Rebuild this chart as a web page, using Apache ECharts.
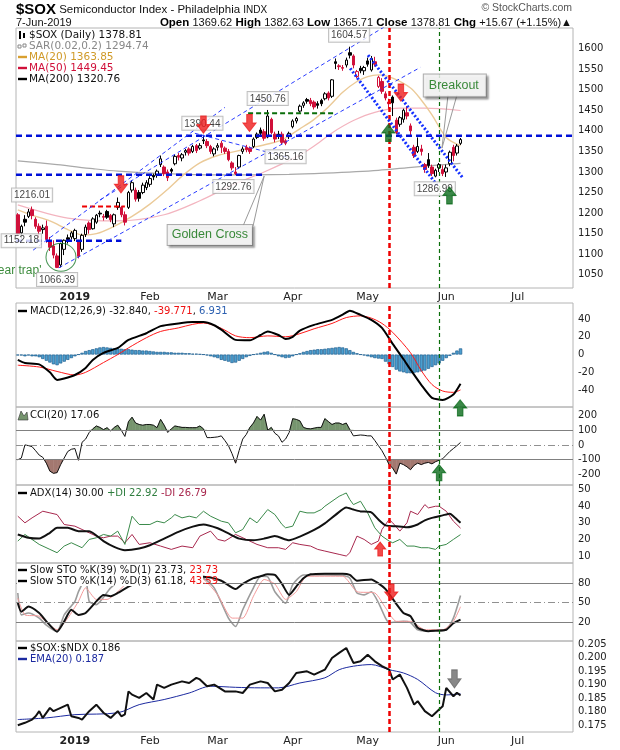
<!DOCTYPE html>
<html>
<head>
<meta charset="utf-8">
<title>$SOX daily</title>
<script src="https://cdn.jsdelivr.net/npm/echarts@6/dist/echarts.min.js"></script>
<style>
  html, body { margin: 0; padding: 0; background: #fff; }
  #chart { width: 620px; height: 750px; }
</style>
</head>
<body>
<div id="chart"></div>
<script>
// day numbers count trading sessions from 2-Jan-2019 (day 0); chart starts 7-Dec-2018 (day -16)
const FIRST_DAY = -16;
const SLOTS = 156;
const closedDays = ['2018-12-25', '2019-01-01', '2019-01-21', '2019-02-18', '2019-04-19', '2019-05-27', '2019-07-04'];
const monthNames = ['Jan', 'Feb', 'Mar', 'Apr', 'May', 'Jun', 'Jul', 'Aug', 'Sep', 'Oct', 'Nov', 'Dec'];

// $SOX candles, day -16 .. 108 : [open, close, low, high]
const sox = [
  [1196,1150,1145,1200],[1152,1168,1138,1172],[1185,1178,1168,1195],[1192,1203,1188,1210],
  [1208,1194,1185,1216.01],[1185,1168,1162,1190],[1168,1156,1140,1175],[1160,1164,1150,1172],
  [1168,1136,1128,1182],[1132,1117,1108,1142],[1120,1098,1090,1134],[1096,1068,1066.39,1102],
  [1074,1126,1068,1128],[1112,1134,1098,1136],[1140,1136,1126,1148],[1142,1152,1136,1156],
  [1138,1158,1132,1162],[1130,1095,1090,1135],[1112,1146,1106,1150],[1148,1166,1142,1172],
  [1176,1160,1150,1180],[1162,1186,1160,1190],[1178,1195,1174,1198],[1200,1198,1190,1206],
  [1192,1190,1182,1198],[1204,1190,1186,1208],[1194,1184,1178,1198],[1174,1196,1166,1199],
  [1214,1226,1208,1238],[1214,1196,1190,1218],[1196,1178,1170,1204],[1214,1250,1210,1254],
  [1256,1274,1250,1280],[1256,1234,1228,1262],[1250,1236,1228,1256],[1250,1268,1246,1274],
  [1262,1274,1256,1280],[1270,1284,1264,1290],[1292,1288,1280,1296],[1292,1302,1286,1306],
  [1318,1332,1312,1340],[1312,1296,1290,1316],[1300,1286,1278,1306],[1306,1302,1296,1310],
  [1320,1338,1316,1342],[1340,1336,1328,1346],[1334,1342,1326,1346],[1348,1352,1340,1356],
  [1356,1346,1340,1360],[1350,1362,1346,1366],[1364,1352,1346,1368],[1358,1364,1354,1370],
  [1378,1376,1368,1390.44],[1374,1364,1358,1380],[1362,1350,1344,1366],[1344,1356,1338,1360],
  [1360,1364,1352,1370],[1370,1360,1346,1376],[1358,1350,1344,1362],[1350,1330,1326,1356],
  [1322,1310,1304,1326],[1300,1296,1292.76,1312],[1312,1340,1308,1342],[1350,1356,1344,1362],
  [1360,1354,1348,1366],[1358,1350,1344,1362],[1362,1380,1358,1384],[1384,1392,1380,1396],
  [1402,1394,1388,1408],[1398,1382,1376,1404],[1385,1436,1382,1450.76],[1428,1396,1392,1432],
  [1392,1380,1372,1398],[1392,1388,1380,1400],[1392,1372,1366,1398],[1376,1370,1365.16,1380],
  [1386,1394,1380,1398],[1410,1424,1406,1428],[1424,1430,1418,1434],[1448,1460,1444,1464],
  [1462,1468,1456,1472],[1476,1472,1466,1480],[1474,1466,1460,1480],[1470,1458,1452,1474],
  [1466,1462,1454,1472],[1474,1466,1460,1478],[1478,1490,1474,1494],[1492,1480,1474,1496],
  [1484,1524,1480,1526],[1568,1564,1550,1576],[1558,1556,1548,1562],[1552,1554,1546,1560],
  [1560,1572,1554,1578],[1590,1584,1576,1604.57],[1582,1560,1552,1586],[1532,1544,1528,1548],
  [1552,1546,1540,1558],[1546,1554,1536,1558],[1570,1562,1556,1578],[1548,1576,1544,1582],
  [1568,1562,1556,1580],[1508,1530,1504,1534],[1520,1496,1490,1528],[1490,1480,1474,1496],
  [1470,1466,1454,1478],[1482,1468,1436,1486],[1426,1396,1392,1432],[1416,1432,1410,1436],
  [1428,1450,1420,1454],[1444,1436,1428,1460],[1412,1400,1390,1418],[1360,1340,1334,1366],
  [1350,1362,1346,1384],[1356,1350,1340,1366],[1318,1306,1298,1322],[1330,1316,1310,1346],
  [1312,1296,1290,1318],[1290,1304,1286.99,1308],[1310,1318,1300,1322],[1306,1296,1290,1316],
  [1300,1310,1288,1318],[1320,1348,1314,1352],[1360,1340,1326,1366],[1346,1363.14,1340,1368],
  [1369.62,1378.81,1365.71,1382.63]
];

// moving averages: [day, value]
const ma20 = [[-16,1208],[-12,1195],[-7,1181],[-2,1160],[2,1147],[6,1150],[11,1168],[16,1192],[21,1222],[26,1258],[30,1290],[35,1322],[40,1340],[45,1350],[49,1358],[54,1368],[58,1378],[63,1405],[67,1428],[71,1458],[75,1494],[79,1520],[82,1532],[85,1536],[89,1528],[94,1504],[97,1475],[100,1439],[104,1384],[108,1363.85]];
const ma50 = [[-16,1220],[-2,1188],[12,1181],[25,1196],[35,1230],[44,1268],[53,1300],[63,1341],[67,1363],[72,1395],[78,1425],[84,1445],[91,1455],[98,1455],[108,1449.45]];
const ma200 = [[-16,1327],[-5,1318],[5,1308],[12,1302],[25,1296],[40,1293],[60,1294],[70,1297],[85,1304],[95,1312],[108,1320.76]];

// MACD(12,26,9)
const macdLine = [[-16,-6],[-14,-9.5],[-10,-11],[-7,-20],[-5,-28.5],[-3,-27],[0,-23],[3,-15],[5,-6],[8,2],[12,7.5],[15,16.5],[20,24],[24,32],[29,35],[33,36.5],[36,36.5],[39,33],[41,28],[45,16.5],[49,16],[52,22],[54,26],[57,22],[59,17.6],[61,20],[63,27],[67,33.4],[72,39],[75,45],[77,49.4],[80,44.6],[83,39],[86,30],[89,12],[92,-5],[94,-17],[97,-34],[100,-48.7],[103,-51],[106,-45],[108,-32.84]];
const macdSignal = [[-16,-12],[-10,-14],[-5,-19],[0,-23],[3,-20],[8,-9],[12,0],[15,7.5],[20,18.9],[24,26],[29,30],[33,34],[36,35.5],[41,29.5],[45,21],[49,19],[54,21],[59,20],[63,23.5],[67,29],[72,35],[76,41.6],[80,43.5],[83,41],[86,35],[89,25],[94,2],[97,-18],[100,-33.7],[103,-41],[106,-42.5],[108,-39.77]];
const macdHist = [
  -1,-1,-2,-1,-2,-2,-3, -5,-7,-9,-11,-12,-10, -8,-6,-4,-2,
  0,2,4,5,6,7,8,8.5, 8,7.5,7,7,6.5,6,6, 5.5,5,5,4.5,4.5,4,3.5,
  3,3,3,2.5,2.5,2,2,2,1.5,1.5,1, 1,0.5,0,-1,-2,-3, -4,-6,-7,-8,-9.5,-9,
  -7,-5,-3,-1.5, 0,1,2, 3,3.5,2, 0,-2,-3,-4,-3.5,-2, 0,1.5,3,
  4,5,5.5,6,6,6.5,7,7.5,8,8.5,8,7, 5,3,1.5,0,-1, -2,-3,-4,-4.5,-5,
  -8,-11,-14,-17,-19,-20,-21,-21, -20.5,-20,-19,-18,-16, -14,-12,-10,-7,-4,-1.5, 2,4.5,6.93
];

// CCI(20), one value per day from day -16
const cci = [[-16,-102],[-15,-90],[-14,0],[-13,-5],[-12,-12],[-11,-40],[-10,-70],[-9,-85],[-8,-125],[-7,-180],[-6,-195],[-5,-190],[-4,-135],[-3,-90],[-2,-45],[-1,-30],[0,-25],[1,-105],[2,18],[3,40],[4,85],[5,110],[6,130],[7,120],[8,105],[9,118],[10,95],[11,120],[12,135],[13,100],[14,58],[15,160],[16,190],[17,150],[18,140],[19,135],[20,140],[21,140],[22,135],[23,118],[24,175],[25,135],[26,85],[27,110],[28,130],[29,125],[30,120],[31,120],[32,118],[33,118],[34,118],[35,130],[36,110],[37,50],[38,50],[39,52],[40,55],[41,62],[42,30],[43,-5],[44,-60],[45,-125],[46,-38],[47,40],[48,72],[49,120],[50,150],[51,195],[52,170],[53,210],[54,100],[55,120],[56,80],[57,62],[58,18],[59,40],[60,85],[61,180],[62,175],[63,165],[64,120],[65,112],[66,110],[67,115],[68,120],[69,120],[70,180],[71,160],[72,140],[73,150],[74,150],[75,140],[76,150],[77,105],[78,62],[79,65],[80,68],[81,66],[82,62],[83,62],[84,30],[85,-5],[86,-40],[87,-85],[88,-135],[89,-160],[90,-200],[91,-125],[92,-135],[93,-150],[94,-170],[95,-140],[96,-125],[97,-135],[98,-125],[99,-120],[100,-130],[101,-115],[102,-105],[103,-95],[104,-70],[105,-45],[106,-25],[107,-5],[108,17.06]];

// ADX(14)
const adx = [[-16,23],[-13,21],[-10,20.5],[-7,24],[-5,27],[-2,27],[1,25],[4,25],[8,19],[11,15.5],[14,13.5],[18,14.5],[21,16.5],[25,20.5],[29,24.6],[33,27.7],[36,29],[40,26.7],[43,23.6],[46,20.5],[50,19.5],[53,20.5],[56,22],[60,19.5],[63,21.7],[67,25.7],[70,29.7],[73,34.8],[76,39.3],[78,38],[80,36.9],[83,36.3],[85,32],[87,28.5],[90,27.9],[93,27.3],[96,29],[98,31.5],[100,33],[103,34.5],[105,35.5],[106,34],[108,30]];
const plusDI = [[-16,19],[-14,23],[-10,17],[-7,14],[-5,12],[-3,16],[-1,18],[2,15],[4,20],[6,21],[8,23],[10,22],[12,25],[14,17],[16,34],[18,29],[21,29],[23,31],[25,30],[27,33],[28,35],[30,33],[32,34],[34,33],[36,37],[38,34],[41,31],[43,30],[45,24],[47,26],[49,33],[51,30],[54,38],[56,35],[58,29],[59,27],[61,28],[63,37],[65,36],[67,36],[69,38],[70,40],[72,43],[74,46],[75,47],[76,48],[77,44],[78,41],[80,43],[82,36],[84,27],[86,22],[88,19],[89,18],[91,20],[93,16],[95,16],[97,15],[99,15],[101,14],[102,16],[104,17],[106,20],[108,22.92]];
const minusDI = [[-16,34],[-14,30],[-12,33],[-9,37],[-7,36],[-5,35],[-3,29],[0,28],[3,25],[6,22],[8,21],[10,22],[12,22],[14,18],[16,23],[18,17],[21,18],[24,16],[27,14],[30,16],[33,15],[35,22],[38,25],[40,20],[42,19],[45,23],[48,20],[51,17],[54,15],[57,15],[59,14],[61,18],[63,17],[66,16],[68,14],[70,13],[72,12],[74,11],[76,10],[77,12],[79,22],[81,20],[83,17],[85,19],[86,26],[88,32],[89,30],[91,25],[93,30],[94,37],[96,35],[98,41],[99,39],[101,40],[102,40],[104,37],[106,31],[108,26.79]];

// slow stochastics
const stoK39 = [[-16,49.5],[-15,36],[-13,44],[-10,34],[-8,21],[-5,5],[-3,21],[-1,39],[1,31],[3,34],[6,52],[8,62],[10,60],[12,65],[15,75],[18,82],[22,88],[26,90],[30,92],[34,91],[38,89],[41,84],[45,71],[47,79],[50,88],[52,91],[54,94],[56,93],[58,79],[60,62],[62,75],[64,88],[66,94],[70,95],[75,95],[77,93],[79,84],[83,86],[85,80],[87,71],[90,48],[92,34],[94,29],[96,11],[99,5.6],[101,6.6],[104,8],[106,18],[108,23.73]];
const stoK14 = [[-16,65],[-15,31],[-13,34],[-10,26],[-8,15],[-5,5],[-3,31],[0,52],[1,67],[3,88],[4,52],[6,47],[10,73],[13,85],[17,92],[22,90],[27,93],[32,90],[36,88],[39,73],[43,26],[45,13],[47,39],[50,73],[52,91],[54,90],[56,67],[59,49],[61,78],[64,93],[70,93],[75,92],[77,88],[79,65],[81,62],[83,67],[85,50],[87,26],[88,19],[92,21],[94,19],[96,8],[100,5.6],[104,8],[106,26],[108,61.18]];
const stoD3 = [[-16,57],[-14,31],[-10,29],[-5,8],[-2,26],[1,52],[3,73],[6,55],[9,55],[12,67],[15,82],[20,90],[26,90],[31,90],[36,86],[40,62],[44,26],[47,26],[50,60],[53,86],[56,79],[59,55],[62,67],[65,91],[75,91],[79,67],[84,65],[87,42],[90,21],[94,21],[98,8],[103,8],[106,21],[108,43.59]];

// $SOX:$NDX ratio and its EMA(20)
const ratio = [[-16,0.1750],[-14,0.1759],[-12,0.1771],[-11,0.1783],[-10,0.1802],[-9,0.1777],[-7,0.1814],[-6,0.1802],[-4,0.1814],[-2,0.1826],[-1,0.1783],[1,0.1777],[2,0.1771],[4,0.1802],[6,0.1826],[8,0.1796],[10,0.1777],[12,0.1802],[13,0.1783],[14,0.1790],[15,0.1875],[16,0.1863],[18,0.1851],[20,0.1869],[22,0.1845],[23,0.1900],[25,0.1888],[27,0.1900],[30,0.1912],[32,0.1906],[34,0.1925],[35,0.1919],[37,0.1894],[39,0.1900],[42,0.1875],[45,0.1875],[47,0.1869],[49,0.1900],[52,0.1912],[54,0.1906],[56,0.1875],[58,0.1881],[60,0.1906],[62,0.1943],[65,0.1949],[67,0.1937],[70,0.1955],[72,0.1998],[74,0.2017],[76,0.2035],[78,0.1980],[80,0.1986],[82,0.2010],[84,0.1986],[86,0.1968],[88,0.1955],[89,0.1919],[91,0.1937],[93,0.1888],[95,0.1826],[96,0.1839],[98,0.1802],[100,0.1783],[102,0.1808],[103,0.1820],[104,0.1888],[106,0.1857],[107,0.1870],[108,0.1860]];
const ratioEma = [[-16,0.1771],[-8,0.1777],[0,0.1789],[12,0.1796],[18,0.1826],[25,0.1845],[32,0.1869],[38,0.1894],[45,0.1890],[52,0.1888],[57,0.1888],[63,0.1906],[70,0.1925],[74,0.1955],[78,0.1968],[83,0.1974],[88,0.1955],[92,0.1943],[96,0.1919],[101,0.1870],[104,0.1862],[108,0.1866]];

// tick labels
const priceTicks = [1050,1100,1150,1200,1250,1300,1350,1400,1450,1500,1550,1600];
const macdTicks = [-40,-20,0,20,40];
const cciTicks = [-200,-100,0,100,200];
const adxTicks = [10,20,30,40,50];
const stoTicks = [20,50,80];
const ratioTicks = [0.175,0.180,0.185,0.190,0.195,0.200,0.205];

// annotations drawn on the price panel
const blueLevels = [[-16.5,139.5,1388],[-16.5,53,1293],[-16.5,13,1133]];   // [from, to, price]
const redLevel = [2,14,1216];
const greenLevel = [48.5,73,1443];
const channelUp = [[[-11.7,1110],[42,1457]],[[7,1232],[86.9,1654]],[[-4.5,1067],[96.7,1554]]];
const channelDown = [[[77.1,1552],[101.4,1268]],[[82.1,1584],[108.7,1285]]];
const fallLine = [[33.6,1394],[60.3,1334]];
const priceTags = [  // [day, anchor, text, side]
  [-12,1216.01,'1216.01','top'],[-15,1133,'1152.18','inside'],[-5,1066.39,'1066.39','bottom'],
  [35.7,1390.44,'1390.44','top'],[54,1450.76,'1450.76','top'],[59,1365.16,'1365.16','bottom'],
  [44.4,1292.76,'1292.76','bottom'],[76.8,1604.57,'1604.57','top'],[100.8,1286.99,'1286.99','bottom']
];
const redDay = 88;    // 9-May-2019
const greenDay = 102; // 30-May-2019

// trading calendar for the category axis
const dates = [];
(function () {
  const d = new Date(Date.UTC(2018, 11, 7));
  while (dates.length < SLOTS) {
    const s = d.toISOString().slice(0, 10);
    const wd = d.getUTCDay();
    if (wd !== 0 && wd !== 6 && closedDays.indexOf(s) < 0) dates.push(s);
    d.setUTCDate(d.getUTCDate() + 1);
  }
})();
const isMonthStart = i => i > 0 && dates[i].slice(5, 7) !== dates[i - 1].slice(5, 7);

const FONT = 'DejaVu Sans';
const SANS = 'Liberation Sans';
const RED = '#d0103a';
const ARROW_DOWN = 'path://M4,0 L10,0 L10,8 L14,8 L7,16 L0,8 L4,8 Z';
const ARROW_UP = 'path://M7,0 L14,8 L10,8 L10,16 L4,16 L4,8 L0,8 Z';

const gridTops = [[28,260],[303,104],[407,78],[485,78],[563,78],[641,91]];
const grids = gridTops.map(g => ({
  left: 16, width: 557, top: g[0], height: g[1],
  show: true, borderColor: '#b4b4b4', borderWidth: 1
}));

const dateAxis = gi => ({
  type: 'category', gridIndex: gi, data: dates, position: 'bottom', boundaryGap: true,
  axisLine: { show: false }, axisTick: { show: false }, splitLine: { show: false },
  axisLabel: {
    interval: i => isMonthStart(i), margin: 4, fontSize: 11, color: '#222', fontFamily: FONT,
    formatter: v => v.slice(5, 7) === '01' ? '{y|2019}' : monthNames[+v.slice(5, 7) - 1],
    rich: { y: { fontWeight: 'bold', fontSize: 11, fontFamily: FONT, color: '#222' } }
  }
});
const dayAxis = gi => ({
  type: 'value', gridIndex: gi, position: 'top', show: false,
  min: FIRST_DAY - 0.5, max: FIRST_DAY - 0.5 + SLOTS
});
const valAxis = (gi, min, max, ticks, fmt) => ({
  type: 'value', gridIndex: gi, position: 'right', min, max,
  splitLine: { show: false }, axisLine: { show: false }, axisTick: { show: false },
  axisLabel: { customValues: ticks, formatter: fmt || (v => String(v)), fontSize: 10, color: '#222', margin: 5, fontFamily: FONT }
});

// x axis index of the day axis of each grid
const DX = [1, 2, 3, 4, 5, 6];

const line = (gi, data, color, width, extra) => Object.assign({
  type: 'line', xAxisIndex: DX[gi], yAxisIndex: gi, data, symbol: 'none', silent: true,
  lineStyle: { color, width }, itemStyle: { color }, z: 3
}, extra || {});

const vMarks = [
  { xAxis: redDay, lineStyle: { color: '#ee0000', width: 2.5, type: [5, 3] } },
  { xAxis: greenDay, lineStyle: { color: '#0a6e0a', width: 1.2, type: [4, 3] } }
];
const marks = extra => ({ symbol: 'none', silent: true, label: { show: false }, data: (extra || []).concat(vMarks) });
const refLine = (v, dashed) => ({ yAxis: v, lineStyle: { color: dashed ? '#909090' : '#808080', width: 1, type: dashed ? [7, 3, 1, 3] : 'solid' } });

const arrows = (gi, pts, path, color, size) => ({
  type: 'scatter', xAxisIndex: DX[gi], yAxisIndex: gi, data: pts, symbol: path, symbolSize: size,
  itemStyle: { color, borderColor: color }, silent: true, z: 8, clip: false
});

// filled CCI excursions beyond +/-100
const cciBand = (T, above, color) => ({
  type: 'custom', xAxisIndex: DX[2], yAxisIndex: 2, silent: true, z: 1, clip: true,
  data: cci.slice(0, -1),
  renderItem: (params, api) => {
    const a = cci[params.dataIndex], b = cci[params.dataIndex + 1];
    const over = v => above ? v > T : v < T;
    if (!over(a[1]) && !over(b[1])) return { type: 'group', children: [] };
    const pts = [[a[0], T]];
    if (over(a[1])) pts.push(a);
    if (over(a[1]) !== over(b[1])) pts.push([a[0] + (T - a[1]) / (b[1] - a[1]) * (b[0] - a[0]), T]);
    if (over(b[1])) pts.push(b);
    pts.push([b[0], T]);
    return {
      type: 'polygon', shape: { points: pts.map(p => api.coord(p)) },
      style: { fill: color, stroke: color, lineWidth: 0.5 }
    };
  }
});

const candleData = sox.map((r, i) => {
  const prev = i > 0 ? sox[i - 1][1] : r[0];
  const edge = r[1] < prev ? RED : '#000';
  const fill = r[1] > r[0] ? '#fff' : edge;
  return { value: r, itemStyle: { color: fill, color0: fill, borderColor: edge, borderColor0: edge, borderWidth: 1 } };
});

const series = [];
series.push({ type: 'candlestick', xAxisIndex: 0, yAxisIndex: 0, data: candleData, barWidth: 3, z: 4, silent: true });
series.push(line(0, ma200, '#a9a9a9', 1.2, { smooth: 0.3, z: 2, markLine: marks() }));
series.push(line(0, ma50, '#f3b4bf', 1.2, { smooth: 0.3, z: 2 }));
series.push(line(0, ma20, '#ebca98', 1.4, { smooth: 0.3, z: 2 }));

const seg = (pts, color, width, type, z) => line(0, pts, color, width, { lineStyle: { color, width, type }, z: z || 5 });
blueLevels.forEach(l => series.push(seg([[l[0], l[2]], [l[1], l[2]]], '#0010d8', 2.5, [6, 4])));
series.push(seg([[redLevel[0], redLevel[2]], [redLevel[1], redLevel[2]]], '#ee0000', 2, [5, 3]));
series.push(seg([[greenLevel[0], greenLevel[2]], [greenLevel[1], greenLevel[2]]], '#0a6e0a', 2, [5, 3]));
channelUp.forEach(c => series.push(seg(c, '#2a3cff', 1, [4, 3])));
series.push(seg(fallLine, '#2a3cff', 1, [4, 3]));
channelDown.forEach(c => series.push(seg(c, '#1530ff', 3, [2, 2])));
// callout pointers
[[[47.1,1169],[53,1290]], [[49.9,1169],[53,1290]], [[104.5,1487],[102.8,1358]], [[107,1487],[102.8,1358]]]
  .forEach(c => series.push(seg(c, '#9a9a9a', 1, 'solid', 6)));

series.push({
  type: 'scatter', xAxisIndex: 1, yAxisIndex: 0, symbolSize: 0, silent: true, z: 7, clip: false,
  data: priceTags.map(t => ({
    value: [t[0], t[1]],
    label: { show: true, position: t[3], distance: 5, formatter: t[2] }
  })),
  label: {
    fontSize: 10, fontFamily: SANS, color: '#111', backgroundColor: '#fff',
    borderColor: '#b0b0b0', borderWidth: 1, padding: [2, 2, 1, 2]
  }
});
series.push({
  type: 'scatter', xAxisIndex: 1, yAxisIndex: 0, symbolSize: 0, silent: true, z: 9, clip: false,
  data: [
    { value: [37.8, 1147], label: { formatter: 'Golden Cross' } },
    { value: [106.4, 1510], label: { formatter: 'Breakout', padding: [5, 7, 4, 5] } }
  ],
  label: {
    show: true, position: 'inside', fontSize: 12.5, fontFamily: SANS, color: '#0a6e0a',
    backgroundColor: '#fff', borderColor: '#999', borderWidth: 1, padding: [4, 4, 3, 4],
    shadowColor: 'rgba(0,0,0,0.35)', shadowBlur: 2, shadowOffsetX: 2, shadowOffsetY: 2
  }
});
series.push({
  type: 'scatter', xAxisIndex: 1, yAxisIndex: 0, silent: true, z: 6, clip: false,
  data: [{ value: [-3.9, 1093], label: { show: true, position: 'left', distance: 2, formatter: "bear trap'" } }],
  symbol: 'circle', symbolSize: [30, 28],
  itemStyle: { color: 'transparent', borderColor: '#1a7a2a', borderWidth: 1 },
  label: { fontSize: 12, fontFamily: SANS, color: '#0a6e0a', offset: [-2, 14] }
});
series.push(arrows(0, [[12.9,1270],[36,1415],[48.9,1419],[91.3,1493]], ARROW_DOWN, '#ee1c1c', [13, 17]));
series.push(arrows(0, [[87.8,1395],[104.9,1243]], ARROW_UP, '#0a6a1a', [13, 17]));

// MACD
series.push({
  type: 'bar', xAxisIndex: DX[1], yAxisIndex: 1, barWidth: 3.3, silent: true, z: 2,
  data: macdHist.map((v, i) => [FIRST_DAY + i, v]),
  itemStyle: { color: '#4b9fd0', borderColor: '#1f5f8f', borderWidth: 0.7 }
});
series.push(line(1, macdSignal, '#ff1a1a', 1, { smooth: 0.3, markLine: marks() }));
series.push(line(1, macdLine, '#000', 2, { smooth: 0.2 }));
series.push(arrows(1, [[107.9,-60]], ARROW_UP, '#0a6a1a', [13, 16]));

// CCI
series.push(cciBand(100, true, '#76956e'));
series.push(cciBand(-100, false, '#a37870'));
series.push(line(2, cci, '#111', 1, { markLine: marks([refLine(100), refLine(-100), refLine(0, true)]) }));
series.push(arrows(2, [[102,-190]], ARROW_UP, '#0a6a1a', [13, 16]));

// ADX
series.push(line(3, minusDI, '#a8284e', 1, { markLine: marks() }));
series.push(line(3, plusDI, '#3a8a4a', 1));
series.push(line(3, adx, '#111', 2, { smooth: 0.2 }));
series.push(arrows(3, [[85.5,14.2]], ARROW_UP, '#ee1c1c', [11, 14]));

// slow stochastics
series.push(line(4, stoK14, '#9c9c9c', 1.6, { smooth: 0.2, markLine: marks([refLine(80), refLine(20), refLine(50, true)]) }));
series.push(line(4, stoD3, '#f49a9a', 1, { smooth: 0.2 }));
series.push(line(4, stoK39, '#111', 2, { smooth: 0.2 }));
series.push(arrows(4, [[88.6,66.5]], ARROW_DOWN, '#ee1c1c', [13, 16]));

// ratio
series.push(line(5, ratioEma, '#1c2aa0', 1, { smooth: 0.3, markLine: marks() }));
series.push(line(5, ratio, '#111', 2));
series.push(arrows(5, [[106.3,0.1921]], ARROW_DOWN, '#6a6a6a', [13, 18]));

// header and panel legends
const txt = (x, y, text, opt) => ({
  type: 'text', x, y, z: 101,
  style: Object.assign({ text, fill: '#111', fontSize: 10, fontFamily: FONT, verticalAlign: 'middle' }, opt || {})
});
const dash = (y, color) => ({ type: 'rect', z: 101, shape: { x: 18, y: y - 1.2, width: 9, height: 2.4 }, style: { fill: color } });
const r = (color, weight, size, fam) => ({ fill: color, fontWeight: weight || 'normal', fontSize: size || 10, fontFamily: fam || FONT });

const graphics = [
  txt(16, 10, '{t|$SOX} {n|Semiconductor Index - Philadelphia} {s|INDX}', {
    rich: { t: r('#000', 'bold', 15, SANS), n: r('#111', 'normal', 11.5, SANS), s: r('#111', 'normal', 10, SANS) }
  }),
  txt(16, 23, '7-Jun-2019', { fontSize: 11, fontFamily: SANS }),
  txt(572, 23, '{b|Open} {v|1369.62} {b|High} {v|1382.63} {b|Low} {v|1365.71} {b|Close} {v|1378.81} {b|Chg} {v|+15.67 (+1.15%)▲}', {
    align: 'right', rich: { b: r('#000', 'bold', 11.5, SANS), v: r('#111', 'normal', 11, SANS) }
  }),
  txt(572, 8, '© StockCharts.com', { align: 'right', fill: '#555', fontSize: 10.5, fontFamily: SANS }),

  { type: 'rect', z: 101, shape: { x: 19, y: 31, width: 2, height: 8 }, style: { fill: '#000' } },
  { type: 'rect', z: 101, shape: { x: 23, y: 33, width: 2, height: 5 }, style: { fill: '#000' } },
  txt(29, 35, '$SOX (Daily) 1378.81', { fontSize: 10.5 }),
  { type: 'rect', z: 101, shape: { x: 18, y: 45, width: 3, height: 3 }, style: { fill: 'none', stroke: '#888' } },
  { type: 'rect', z: 101, shape: { x: 23, y: 44, width: 3, height: 3 }, style: { fill: 'none', stroke: '#888' } },
  txt(29, 46, 'SAR(0.02,0.2) 1294.74', { fill: '#888', fontSize: 10.5 }),
  dash(57, '#d9a030'), txt(29, 57, 'MA(20) 1363.85', { fill: '#d09a28', fontSize: 10.5 }),
  dash(68, RED), txt(29, 68, 'MA(50) 1449.45', { fill: RED, fontSize: 10.5 }),
  dash(79, '#000'), txt(29, 79, 'MA(200) 1320.76', { fontSize: 10.5 }),

  dash(311, '#000'),
  txt(30, 311, 'MACD(12,26,9) -32.840, {red|-39.771}, {blue|6.931}', { rich: { red: r('#ee1111'), blue: r('#2b5fb0') } }),

  { type: 'polygon', z: 101, shape: { points: [[18, 420], [21, 411], [24, 416], [27, 412], [28, 420]] }, style: { fill: '#76956e', stroke: '#333', lineWidth: 0.6 } },
  txt(30, 415, 'CCI(20) 17.06'),

  dash(493, '#000'),
  txt(30, 493, 'ADX(14) 30.00 {g|+DI 22.92} {m|-DI 26.79}', { rich: { g: r('#2e7d3e'), m: r('#a8284e') } }),

  { type: 'rect', z: 100, shape: { x: 17, y: 564, width: 186, height: 22 }, style: { fill: '#fff' } },
  dash(570, '#000'),
  txt(30, 570, 'Slow STO %K(39) %D(1) 23.73, {red|23.73}', { rich: { red: r('#ee1111') } }),
  dash(581, '#000'),
  txt(30, 581, 'Slow STO %K(14) %D(3) 61.18, {red|43.59}', { rich: { red: r('#ee1111') } }),

  dash(648, '#000'), txt(30, 648, '$SOX:$NDX 0.186'),
  dash(659, '#1c2aa0'), txt(30, 659, 'EMA(20) 0.187', { fill: '#1c2aa0' })
];

const chart = echarts.init(document.getElementById('chart'));
chart.setOption({
  animation: false,
  backgroundColor: '#fff',
  grid: grids,
  xAxis: [dateAxis(0), dayAxis(0), dayAxis(1), dayAxis(2), dayAxis(3), dayAxis(4), dayAxis(5), dateAxis(5)],
  yAxis: [
    valAxis(0, 1018, 1650, priceTicks),
    valAxis(1, -59, 58, macdTicks),
    valAxis(2, -275, 260, cciTicks),
    valAxis(3, 5.8, 52.8, adxTicks),
    valAxis(4, -9.5, 111.5, stoTicks),
    valAxis(5, 0.1725, 0.2061, ratioTicks, v => v.toFixed(3))
  ],
  series,
  graphic: graphics
});
</script>
</body>
</html>
